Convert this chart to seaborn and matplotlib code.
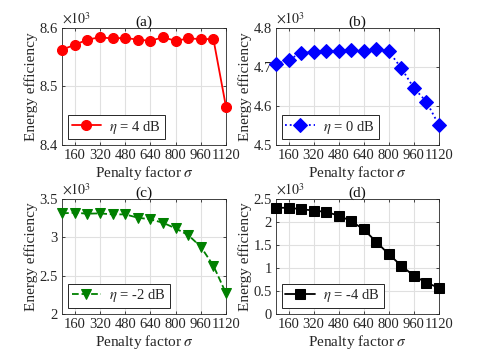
import numpy as np
import pandas as pd
import matplotlib
matplotlib.use("Agg")
import matplotlib.pyplot as plt
from matplotlib.ticker import FuncFormatter, FixedLocator
import seaborn as sns

# ---- data ----
sigma = [80, 160, 240, 320, 400, 480, 560, 640, 720, 800, 880, 960, 1040, 1120]
ee_4db = [8563, 8571, 8580, 8584, 8582, 8583, 8580, 8578, 8584, 8578, 8582, 8581, 8581, 8465]
ee_0db = [4707, 4718, 4736, 4738, 4740, 4740, 4743, 4740, 4745, 4740, 4697, 4646, 4611, 4551]
ee_m2db = [3313, 3322, 3309, 3313, 3300, 3300, 3257, 3235, 3191, 3117, 3030, 2878, 2630, 2270]
ee_m4db = [2310, 2310, 2280, 2250, 2220, 2140, 2020, 1840, 1570, 1300, 1050, 830, 680, 570]

panel_titles = ["(a)", "(b)", "(c)", "(d)"]
legend_labels = [r"$\eta$ = 4 dB", r"$\eta$ = 0 dB", r"$\eta$ = -2 dB", r"$\eta$ = -4 dB"]
x_ticks = [160, 320, 480, 640, 800, 960, 1120]
y_ticks = [
    [8400, 8500, 8600],
    [4500, 4600, 4700, 4800],
    [2000, 2500, 3000, 3500],
    [0, 500, 1000, 1500, 2000, 2500],
]
x_label = r"Penalty factor $\sigma$"
y_label = "Energy efficiency"

series = [ee_4db, ee_0db, ee_m2db, ee_m4db]
colors = ["#ff0000", "#0000ff", "#008000", "#000000"]
markers = ["o", "D", "v", "s"]
linestyles = ["-", ":", "--", "-"]
msizes = [7.2, 6.8, 7.8, 6.8]

sns.set_style("ticks")
plt.rcParams["font.family"] = ["Liberation Serif", "DejaVu Serif"]
plt.rcParams["mathtext.fontset"] = "stix"

fig = plt.figure(figsize=(4.85, 3.58), dpi=100)
positions = [
    [0.128, 0.595, 0.338, 0.327],
    [0.569, 0.595, 0.336, 0.327],
    [0.128, 0.123, 0.338, 0.321],
    [0.569, 0.123, 0.336, 0.321],
]

fmt = FuncFormatter(lambda v, p: f"{v/1000:g}")

for i in range(4):
    ax = fig.add_axes(positions[i])
    df = pd.DataFrame({"sigma": sigma, "ee": series[i]})
    sns.lineplot(data=df, x="sigma", y="ee", ax=ax, color=colors[i],
                 marker=markers[i], markersize=msizes[i], linewidth=1.3,
                 linestyle=linestyles[i], markeredgecolor=colors[i],
                 label=legend_labels[i], clip_on=False, zorder=5)
    ax.set_xlim(80, 1120)
    ax.set_ylim(y_ticks[i][0], y_ticks[i][-1])
    ax.xaxis.set_major_locator(FixedLocator(x_ticks))
    ax.yaxis.set_major_locator(FixedLocator(y_ticks[i]))
    ax.yaxis.set_major_formatter(fmt)
    ax.grid(True, color="#e0e0e0", linewidth=0.8)
    ax.set_axisbelow(True)
    for s in ax.spines.values():
        s.set_color("#262626")
        s.set_linewidth(0.6)
    ax.tick_params(direction="in", length=2.5, width=0.6, labelsize=10.5,
                   top=True, right=True, colors="#262626", labelcolor="#262626", pad=3)
    ax.set_xlabel(x_label, fontsize=11, labelpad=1, color="#262626")
    ax.set_ylabel(y_label, fontsize=11, labelpad=1, color="#262626")
    ax.set_title(panel_titles[i], fontsize=11, pad=1.5, color="#111111")
    ax.text(0.0, 1.015, r"$\times10^3$", transform=ax.transAxes, fontsize=10,
            ha="left", va="bottom", color="#262626")
    leg = ax.legend(loc="lower left", fontsize=10.5, frameon=True, fancybox=False,
                    edgecolor="#262626", framealpha=1, borderpad=0.25,
                    handlelength=2.0, handletextpad=0.6, borderaxespad=0.4)
    leg.get_frame().set_linewidth(0.7)
    leg.set_zorder(10)

fig.savefig("out.png", dpi=100)
